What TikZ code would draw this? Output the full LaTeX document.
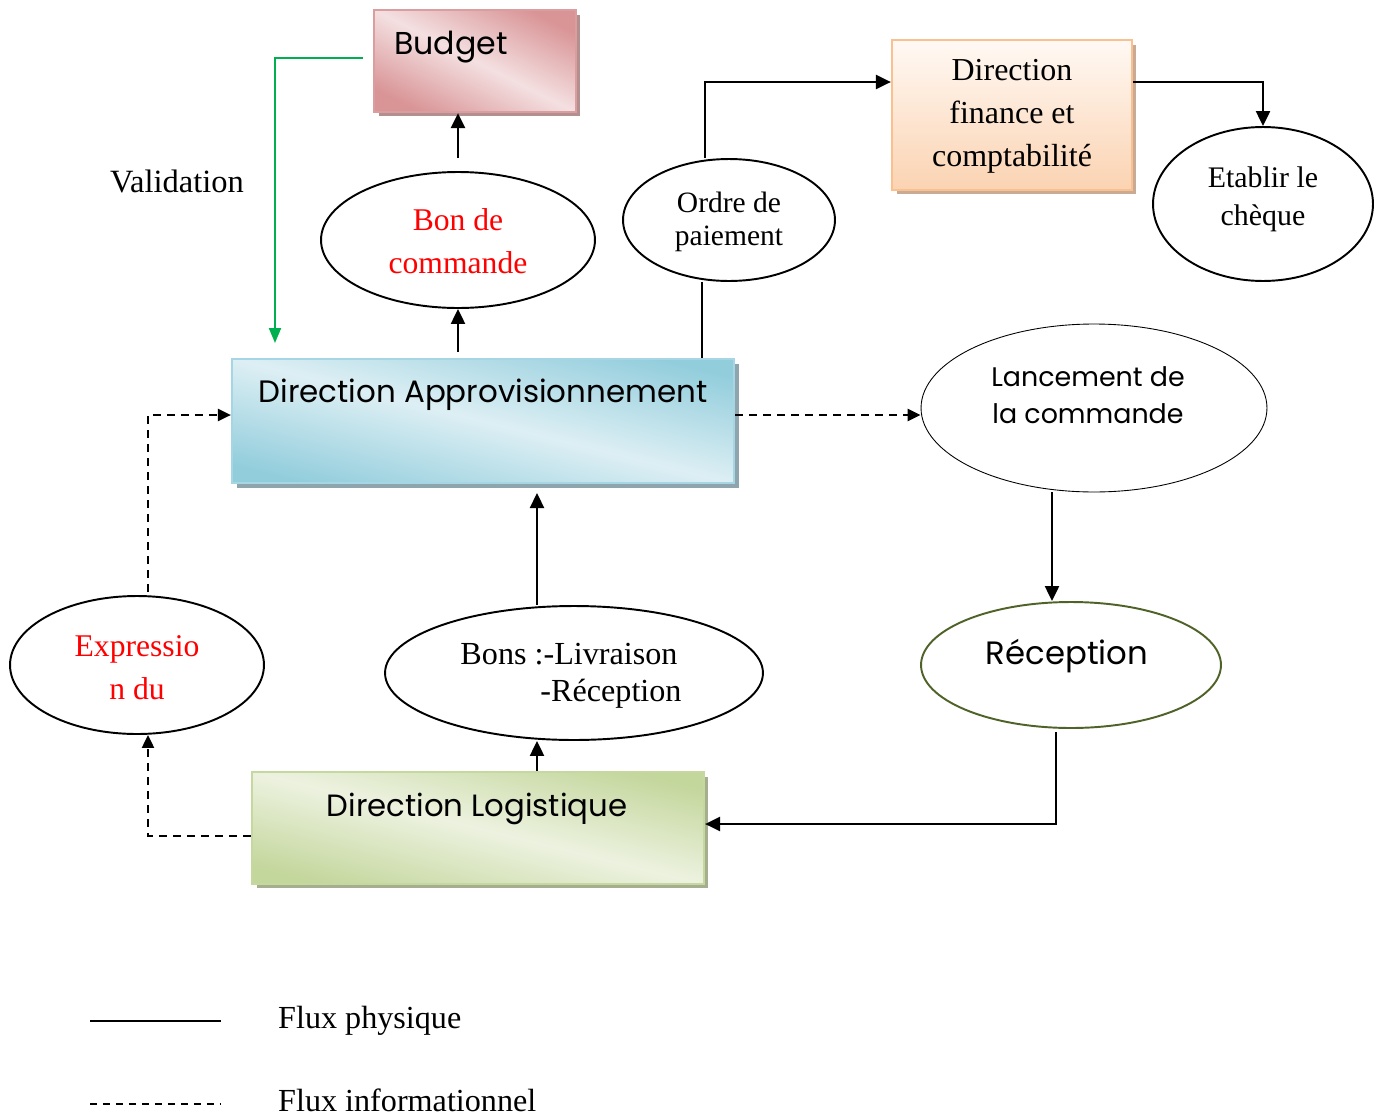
\documentclass[tikz,border=0pt]{standalone}
\usepackage{fontspec}
\setmainfont{Liberation Serif}
\newfontfamily\gothic{Poppins}
\usetikzlibrary{shapes.geometric,arrows.meta,shadows,calc}

% palette
\definecolor{pinkdk}{HTML}{D99496}
\definecolor{pinklt}{HTML}{F4E0E1}
\definecolor{pinkedge}{HTML}{DB9EA0}
\definecolor{pinkshad}{HTML}{B38F90}
\definecolor{bluedk}{HTML}{92CDDC}
\definecolor{bluelt}{HTML}{DDEFF4}
\definecolor{blueedge}{HTML}{A6D6E3}
\definecolor{blueshad}{HTML}{8EA5AE}
\definecolor{greendk}{HTML}{C3D69B}
\definecolor{greenlt}{HTML}{EDF2E0}
\definecolor{greenedge}{HTML}{C5D89F}
\definecolor{greenshad}{HTML}{A5AF90}
\definecolor{peachtop}{HTML}{FFF9F4}
\definecolor{peachbot}{HTML}{FBD3B2}
\definecolor{peachedge}{HTML}{FAC090}
\definecolor{peachshad}{HTML}{C9AA95}
\definecolor{valgreen}{HTML}{00B050}
\definecolor{olive}{HTML}{4F6228}

% diagonal office-style gradients
\pgfdeclarehorizontalshading{pinkdiag}{100bp}{color(0bp)=(pinkdk); color(24bp)=(pinkdk); color(50bp)=(pinklt); color(76bp)=(pinkdk); color(100bp)=(pinkdk)}
\pgfdeclarehorizontalshading{bluediag}{100bp}{color(0bp)=(bluedk); color(24bp)=(bluedk); color(50bp)=(bluelt); color(76bp)=(bluedk); color(100bp)=(bluedk)}
\pgfdeclarehorizontalshading{greendiag}{100bp}{color(0bp)=(greendk); color(24bp)=(greendk); color(50bp)=(greenlt); color(76bp)=(greendk); color(100bp)=(greendk)}

\tikzset{
  box/.style={rectangle, draw, line width=1.3pt, inner sep=0pt},
  oval/.style={ellipse, draw, line width=1.1pt, inner sep=0pt, fill=white},
  flow/.style={line width=1.3pt},
  arr/.style={flow, -{Triangle[length=0.3cm,width=0.28cm]}},
  info/.style={flow, dash pattern=on 0.16cm off 0.12cm},
  iarr/.style={info, -{Triangle[length=0.26cm,width=0.24cm]}},
  serif18/.style={font=\fontsize{18pt}{24.4pt}\selectfont, align=center},
  goth/.style={font=\gothic\fontsize{#1}{1.25\dimexpr#1\relax}\selectfont, align=center},
}

\begin{document}
\begin{tikzpicture}[x=0.02cm, y=-0.02cm]
\useasboundingbox (0,0) rectangle (1383,1116);

% ---- boxes ----
\node[box, draw=pinkedge, shading=pinkdiag, shading angle=63,
      minimum width=4.04cm, minimum height=2.04cm,
      drop shadow={shadow xshift=0.09cm, shadow yshift=-0.09cm, fill=pinkshad, opacity=1}]
  (budget) at (475,61) {};
\node[goth=18pt] (budgettxt) at (451,47) {Budget};

\node[box, draw=blueedge, shading=bluediag, shading angle=76,
      minimum width=10.04cm, minimum height=2.48cm,
      drop shadow={shadow xshift=0.1cm, shadow yshift=-0.1cm, fill=blueshad, opacity=1}]
  (approv) at (483,421) {};
\node[goth=17.6pt] (approvtxt) at (483,395) {Direction Approvisionnement};

\node[box, draw=peachedge, top color=peachtop, bottom color=peachbot,
      minimum width=4.8cm, minimum height=3cm,
      drop shadow={shadow xshift=0.09cm, shadow yshift=-0.09cm, fill=peachshad, opacity=1}]
  (finance) at (1012,115) {};
\node[align=center, font=\fontsize{18.2pt}{24.4pt}\selectfont] (financetxt) at (1012,116.5)
  {Direction\\finance et\\comptabilité};

\node[box, draw=greenedge, shading=greendiag, shading angle=76,
      minimum width=9.04cm, minimum height=2.24cm,
      drop shadow={shadow xshift=0.09cm, shadow yshift=-0.09cm, fill=greenshad, opacity=1}]
  (logist) at (478,828) {};
\node[goth=17.5pt] (logisttxt) at (477,809) {Direction Logistique};

% ---- ellipses ----
\node[oval, minimum width=5.48cm, minimum height=2.72cm] (bon) at (458,240) {};
\node[serif18, text=red] (bontxt) at (458,241) {Bon de\\commande};

\node[oval, minimum width=4.24cm, minimum height=2.44cm] (ordre) at (729,220) {};
\node[font=\fontsize{16.8pt}{18.4pt}\selectfont, align=center] (ordretxt) at (729,222) {Ordre de\\paiement};

\node[oval, minimum width=4.4cm, minimum height=3.08cm] (etablir) at (1263,204) {};
\node[font=\fontsize{17pt}{21.6pt}\selectfont, align=center] (etablirtxt) at (1263,199.5) {Etablir le\\chèque};

\node[oval, line width=0.5pt, minimum width=6.92cm, minimum height=3.36cm] (lancement) at (1094,408) {};
\node[font=\gothic\fontsize{15.3pt}{21pt}\selectfont, align=center] (lancementtxt) at (1088,395) {Lancement de\\la commande};

\node[oval, draw=olive, minimum width=6cm, minimum height=2.52cm] (reception) at (1071,665) {};
\node[goth=18.4pt] (receptiontxt) at (1067,656) {Réception};

\node[oval, minimum width=7.56cm, minimum height=2.68cm] (bons) at (574,673) {};
\node[font=\fontsize{18.3pt}{21pt}\selectfont, align=left] (bonstxt) at (571,676)
  {Bons :-Livraison\\\hspace*{1.6cm}-Réception};

\node[oval, minimum width=5.08cm, minimum height=2.76cm] (expr) at (137,665) {};
\node[serif18, text=red] (exprtxt) at (137,668) {Expressio\\n du};

\node[font=\fontsize{18.5pt}{20pt}\selectfont] (validation) at (177,181) {Validation};

% ---- helper coordinates ----
\coordinate (valstart) at (363,58);
\coordinate (valend) at (275,343);
\coordinate (bontop) at (458,158);
\coordinate (col458) at (458,0);
\coordinate (col702) at (702,0);
\coordinate (col705) at (705,0);
\coordinate (row82) at (0,82);
\coordinate (row415) at (0,415);
\coordinate (col1052) at (1052,0);
\coordinate (recbot) at (1056,732);
\coordinate (row824) at (0,824);
\coordinate (col537) at (537,0);
\coordinate (apptip) at (537,493);
\coordinate (col148) at (148,0);
\coordinate (row836) at (0,836);
\coordinate (exprtop) at (148,592);

% ---- physical flows ----
\draw[arr, draw=valgreen, line width=1.2pt, -{Triangle[length=0.3cm,width=0.24cm]}]
  (valstart) -| (valend);
\draw[arr] (bontop) -- (col458 |- budget.south);
\draw[arr] (col458 |- approv.north) ++(0,-6) -- (bon.south);
\draw[flow] (col702 |- approv.north) -- (col702 |- ordre.south);
\draw[arr] (col705 |- ordre.north) |- (finance.west |- row82);
\draw[arr] (finance.east |- row82) -| (etablir.north);
\draw[arr] (col1052 |- lancement.south) -- (col1052 |- reception.north);
\draw[arr] (recbot) |- (logist.east |- row824);
\draw[arr] (col537 |- logist.north) -- (col537 |- bons.south);
\draw[arr] (col537 |- bons.north) -- (apptip);

% ---- information flows ----
\draw[iarr] (approv.east |- row415) -- (lancement.west |- row415);
\draw[iarr] (logist.west |- row836) -| (col148 |- expr.south);
\draw[iarr] (exprtop) |- (approv.west |- row415);

% ---- legend ----
\coordinate (lega) at (90,1021);
\coordinate (legb) at (221,1021);
\coordinate (legc) at (90,1104);
\coordinate (legd) at (221,1104);
\draw[flow] (lega) -- (legb);
\draw[flow, dash pattern=on 0.15cm off 0.11cm] (legc) -- (legd);
\node[anchor=west, font=\fontsize{18.3pt}{20pt}\selectfont] (legphys) at (272,1021) {Flux physique};
\node[anchor=west, font=\fontsize{18.3pt}{20pt}\selectfont] (leginfo) at (272,1100) {Flux informationnel};
\end{tikzpicture}
\end{document}
